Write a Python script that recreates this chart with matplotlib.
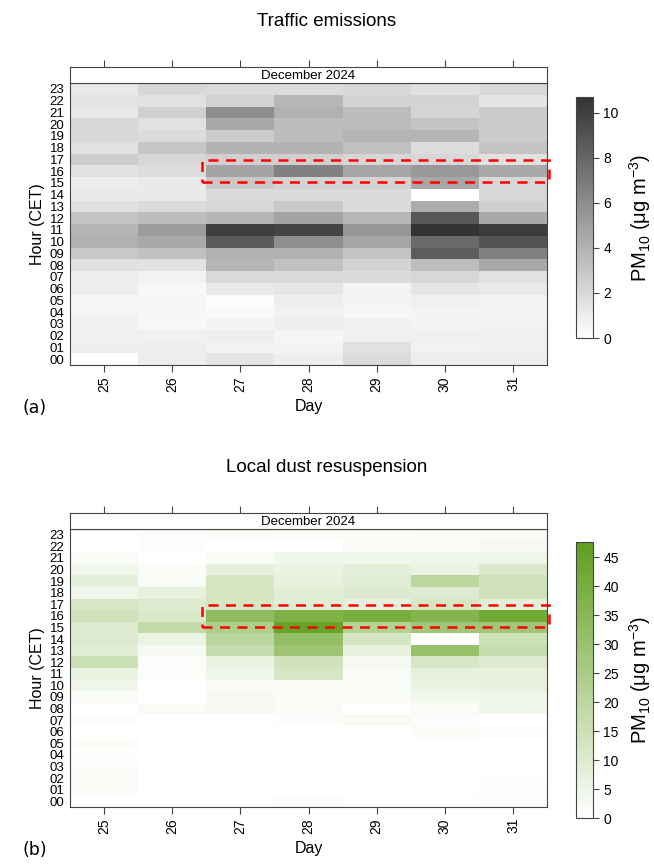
import numpy as np
import matplotlib
matplotlib.use("Agg")
import matplotlib.pyplot as plt
from matplotlib.colors import LinearSegmentedColormap
from matplotlib.patches import Rectangle

plt.rcParams['font.family'] = ['Liberation Sans', 'DejaVu Sans']
plt.rcParams['mathtext.fontset'] = 'custom'
plt.rcParams['mathtext.rm'] = 'Liberation Sans'
plt.rcParams['mathtext.it'] = 'Liberation Sans:italic'

days = [25, 26, 27, 28, 29, 30, 31]
hours = list(range(24))
month_label = "December 2024"

# rows = hours 00..23, columns = days 25..31 (NaN = missing)
traffic = np.array([
    [np.nan, 1.0, 1.3, 0.9, 1.9, 0.9, 0.9],   # 00
    [0.9, 1.0, 0.7, 0.6, 1.6, 0.7, 0.8],      # 01
    [0.8, 0.8, 0.9, 0.5, 0.8, 0.8, 0.8],      # 02
    [0.8, 0.4, 0.6, 0.9, 0.8, 0.6, 0.7],      # 03
    [0.6, 0.5, 0.3, 0.7, 0.5, 0.6, 0.6],      # 04
    [0.5, 0.5, 0.2, 0.9, 0.6, 0.8, 0.6],      # 05
    [0.9, 0.4, 1.2, 1.3, 0.6, 1.4, 1.1],      # 06
    [0.9, 0.7, 2.0, 2.0, 1.9, 2.1, 1.6],      # 07
    [1.6, 1.6, 3.9, 3.3, 2.3, 3.5, 4.5],      # 08
    [2.9, 3.3, 4.1, 4.1, 3.1, 8.5, 6.6],      # 09
    [4.1, 4.5, 8.6, 5.9, 4.7, 7.8, 9.0],      # 10
    [3.9, 5.2, 10.1, 9.8, 5.5, 10.7, 10.2],   # 11
    [3.1, 3.5, 3.9, 4.8, 3.8, 8.8, 4.5],      # 12
    [1.6, 1.9, 2.1, 2.9, 1.9, 4.3, 2.5],      # 13
    [1.1, 1.1, 1.9, 1.9, 1.9, np.nan, 2.1],   # 14
    [0.9, 1.1, 2.9, 2.3, 2.3, 4.6, 2.1],      # 15
    [1.6, 1.8, 4.8, 6.6, 4.7, 5.4, 4.5],      # 16
    [2.7, 2.1, 2.5, 2.5, 2.1, 2.1, 1.6],      # 17
    [1.6, 3.0, 4.0, 4.0, 3.3, 1.8, 3.1],      # 18
    [2.0, 1.9, 2.7, 3.5, 3.9, 3.9, 2.7],      # 19
    [2.1, 1.6, 4.5, 3.5, 3.5, 3.1, 2.7],      # 20
    [1.2, 2.5, 5.9, 4.1, 3.5, 2.2, 2.7],      # 21
    [1.5, 1.6, 2.3, 3.8, 2.3, 2.3, 1.4],      # 22
    [1.2, 2.1, 1.9, 1.9, 2.1, 1.6, 2.0],      # 23
])

dust = np.array([
    [0.0, 0.0, 0.0, 1.0, 0.5, 0.5, 1.0],      # 00
    [2.0, 0.0, 0.0, 0.0, 0.0, 0.0, 1.0],      # 01
    [1.5, 0.0, 0.0, 0.0, 0.0, 0.0, 0.5],      # 02
    [1.0, 0.0, 0.0, 0.0, 0.0, 0.0, 0.0],      # 03
    [0.5, 0.0, 0.0, 0.0, 0.0, 0.0, 0.0],      # 04
    [1.5, 0.0, 0.0, 0.0, 0.0, 0.0, 0.0],      # 05
    [0.0, 0.0, 0.0, 0.0, 0.0, 1.5, 1.0],      # 06
    [1.0, 0.0, 0.0, 1.0, 2.5, 1.0, 0.0],      # 07
    [0.0, 2.0, 3.0, 2.0, 0.0, 2.0, 4.0],      # 08
    [2.0, 0.0, 3.0, 2.0, 2.0, 4.0, 5.0],      # 09
    [5.0, 0.0, 2.0, 2.0, 2.0, 6.0, 7.0],      # 10
    [6.0, 1.0, 5.0, 12.0, 2.0, 7.0, 7.0],     # 11
    [15.0, 1.0, 6.0, 14.0, 3.0, 12.0, 10.0],  # 12
    [9.0, 3.0, 17.0, 29.0, 7.0, 31.0, 17.0],  # 13
    [10.0, 6.0, 20.0, 32.0, 13.0, np.nan, 15.0],  # 14
    [10.0, 18.0, 24.0, 45.0, 22.0, 28.0, 28.0],   # 15
    [14.0, 11.0, 33.0, 38.0, 40.0, 37.0, 42.0],   # 16
    [12.0, 10.0, 12.0, 9.0, 7.0, 12.0, 8.0],      # 17
    [4.0, 7.0, 13.0, 9.0, 10.0, 10.0, 14.0],      # 18
    [8.0, 2.0, 13.0, 7.0, 9.0, 20.0, 14.0],       # 19
    [4.0, 1.5, 7.0, 6.0, 8.0, 6.0, 11.0],         # 20
    [1.5, 0.0, 1.5, 4.0, 4.0, 5.0, 5.0],          # 21
    [0.0, 1.0, 0.0, 0.0, 2.0, 2.0, 3.0],          # 22
    [0.0, 1.0, 2.0, 1.5, 1.5, 2.0, 2.0],          # 23
])

grey_cmap = LinearSegmentedColormap.from_list("grey", ["#ffffff", "#333333"])
green_cmap = LinearSegmentedColormap.from_list("green", ["#ffffff", "#5f9e1b"])
for cm in (grey_cmap, green_cmap):
    cm.set_bad("white")

W, H = 654, 866
fig = plt.figure(figsize=(W / 100, H / 100), dpi=100)

edge = "#444444"


def fx(px):
    return px / W


def fy(py):
    return 1 - py / H


def panel(data, cmap, vmax, top, bottom, cb_top, cb_bottom, title, title_y, letter, cticks):
    # heatmap axes
    ax = fig.add_axes([fx(70), fy(bottom), fx(547) - fx(70), fy(top) - fy(bottom)])
    mesh = ax.pcolormesh(days, hours, data, cmap=cmap, vmin=0, vmax=vmax, shading="nearest")
    ax.set_xlim(24.5, 31.5)
    ax.set_ylim(-0.5, 23.5)
    ax.set_xticks(days)
    ax.set_xticklabels([str(d) for d in days], rotation=90, fontsize=10)
    ax.set_yticks(hours)
    ax.set_yticklabels(["%02d" % h for h in hours], fontsize=9.5)
    ax.tick_params(axis="y", which="major", length=0, pad=4)
    ax.set_yticks([4, 9, 14, 19], minor=True)
    ax.tick_params(axis="y", which="minor", length=5, left=True, right=True, color=edge)
    ax.tick_params(axis="x", length=5, color=edge, pad=3)
    for s in ax.spines.values():
        s.set_color(edge)
    ax.set_ylabel("Hour (CET)", fontsize=11.5, labelpad=3)
    ax.set_xlabel("Day", fontsize=11.5, labelpad=5)

    # strip with month label
    sax = fig.add_axes([fx(70), fy(top), fx(547) - fx(70), fy(top - 16) - fy(top)])
    sax.set_xlim(24.5, 31.5)
    sax.set_xticks(days)
    sax.set_yticks([])
    sax.tick_params(axis="x", top=True, bottom=False, labeltop=False, labelbottom=False,
                    length=5, color=edge)
    for s in sax.spines.values():
        s.set_color(edge)
    sax.text(0.5, 0.45, month_label, transform=sax.transAxes, ha="center", va="center",
             fontsize=9.5)

    # highlighted afternoon band
    ax.add_patch(Rectangle((26.44, 15.07), 31.53 - 26.44, 16.95 - 15.07, fill=False,
                           edgecolor="red", lw=1.8, ls=(0, (4, 3)), clip_on=False))

    # colorbar
    cax = fig.add_axes([fx(576), fy(cb_bottom), fx(593) - fx(576), fy(cb_top) - fy(cb_bottom)])
    cb = fig.colorbar(mesh, cax=cax)
    cb.set_ticks(cticks)
    cb.ax.tick_params(length=4, labelsize=10, color=edge)
    cb.outline.set_edgecolor(edge)
    cb.set_label(r"PM$_{10}$ ($\mathrm{\mu}$g m$^{-3}$)", fontsize=14.5, labelpad=6)

    fig.text(fx(327), fy(title_y), title, ha="center", va="center", fontsize=13.5)
    fig.text(fx(35), fy(bottom + 43), letter, ha="center", va="center", fontsize=12.5,
             family="DejaVu Sans")


panel(traffic, grey_cmap, 10.7, 83, 365, 97, 338, "Traffic emissions", 22, "(a)",
      [0, 2, 4, 6, 8, 10])
panel(dust, green_cmap, 47.6, 529, 807, 542, 818, "Local dust resuspension", 467, "(b)",
      [0, 5, 10, 15, 20, 25, 30, 35, 40, 45])

fig.savefig("out.png", dpi=100)
